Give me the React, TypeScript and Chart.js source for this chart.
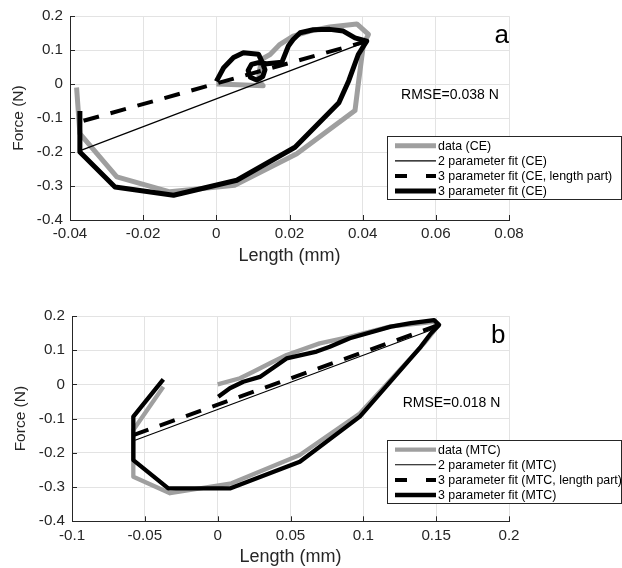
import React, { useEffect, useRef } from 'react';
import { Chart, registerables } from 'chart.js';

Chart.register(...registerables);

// ---------- Panel a (CE) ----------
const ceDataLength = [0.0, 0.006, 0.0128, 0.0115, 0.0118, 0.0124, 0.0147, 0.0174, 0.021, 0.0256, 0.031, 0.0384, 0.0416, 0.0402, 0.0388, 0.0379, 0.0345, 0.022, 0.005, -0.0127, -0.0272, -0.0373, -0.0382];
const ceDataForce = [0.0, -0.002, -0.005, 0.01, 0.04, 0.073, 0.087, 0.117, 0.141, 0.156, 0.168, 0.177, 0.146, 0.117, 0.0, -0.078, -0.105, -0.205, -0.298, -0.317, -0.273, -0.146, -0.01];
const ceFitLength = [0.0, 0.002, 0.0047, 0.0074, 0.0115, 0.0126, 0.0133, 0.0127, 0.011, 0.0093, 0.0087, 0.0096, 0.0115, 0.0138, 0.0179, 0.0197, 0.021, 0.0229, 0.0265, 0.031, 0.0347, 0.0379, 0.0411, 0.0388, 0.0362, 0.0335, 0.0215, 0.0056, -0.0117, -0.0277, -0.0373, -0.0373];
const ceFitForce = [0.008, 0.048, 0.078, 0.092, 0.088, 0.063, 0.042, 0.022, 0.012, 0.02, 0.04, 0.058, 0.063, 0.06, 0.064, 0.112, 0.131, 0.151, 0.16, 0.161, 0.156, 0.136, 0.126, 0.087, 0.01, -0.055, -0.186, -0.283, -0.327, -0.303, -0.2, -0.079];
const ce2pLength = [-0.0372, 0.0411];
const ce2pForce = [-0.196, 0.125];
const ce3pLenLength = [-0.0363, 0.0411];
const ce3pLenForce = [-0.108, 0.126];
const ceLabels = ['data (CE)', '2 parameter fit (CE)', '3 parameter fit (CE, length part)', '3 parameter fit (CE)'];
const ceRmse = 'RMSE=0.038 N';

// ---------- Panel b (MTC) ----------
const mtcDataLength = [0.0, 0.0153, 0.0244, 0.0359, 0.0473, 0.07, 0.0906, 0.118, 0.1486, 0.1509, 0.1417, 0.0976, 0.0564, 0.0095, -0.0327, -0.0579, -0.0579, -0.0373];
const mtcDataForce = [0.0, 0.018, 0.037, 0.062, 0.086, 0.12, 0.139, 0.169, 0.183, 0.169, 0.12, -0.085, -0.206, -0.289, -0.318, -0.27, -0.133, -0.007];
const mtcFitLength = [0.0004, 0.0084, 0.0176, 0.029, 0.0473, 0.0679, 0.077, 0.0907, 0.1189, 0.1326, 0.1486, 0.152, 0.1463, 0.1394, 0.0976, 0.0564, 0.0084, -0.0339, -0.0579, -0.0579, -0.0373];
const mtcFitForce = [-0.036, -0.011, 0.008, 0.022, 0.076, 0.096, 0.11, 0.135, 0.169, 0.179, 0.188, 0.174, 0.149, 0.11, -0.094, -0.226, -0.304, -0.304, -0.221, -0.094, 0.015];
const mtc2pLength = [-0.0567, 0.152];
const mtc2pForce = [-0.163, 0.168];
const mtc3pLenLength = [-0.0579, 0.152];
const mtc3pLenForce = [-0.148, 0.174];
const mtcLabels = ['data (MTC)', '2 parameter fit (MTC)', '3 parameter fit (MTC, length part)', '3 parameter fit (MTC)'];
const mtcRmse = 'RMSE=0.018 N';

// axis ranges / ticks
const ceXRange = [-0.04, 0.08, 0.02];
const mtcXRange = [-0.1, 0.2, 0.05];
const forceRange = [-0.4, 0.2, 0.1];

const FONT = '"Liberation Sans", Arial, Helvetica, sans-serif';
const AX = '#262626';
const GRID = '#e3e3e3';
const GRAY = '#9f9f9f';

const pts = (xs: number[], ys: number[]) => xs.map((x, i) => ({ x, y: ys[i] }));
const fmt = (v: any) => String(Math.round(Number(v) * 1000) / 1000);

const innerTicks = {
  id: 'innerTicks',
  beforeDatasetsDraw(chart: any) {
    const { ctx, chartArea: a, scales } = chart;
    const x = scales.x, y = scales.y;
    ctx.save();
    ctx.strokeStyle = AX;
    ctx.lineWidth = 1;
    ctx.beginPath();
    x.ticks.forEach((t: any) => {
      const px = Math.round(x.getPixelForValue(t.value)) + 0.5;
      ctx.moveTo(px, a.bottom);
      ctx.lineTo(px, a.bottom - 5);
    });
    y.ticks.forEach((t: any) => {
      const py = Math.round(y.getPixelForValue(t.value)) + 0.5;
      ctx.moveTo(a.left, py);
      ctx.lineTo(a.left + 5, py);
    });
    ctx.stroke();
    ctx.restore();
  },
};

function makeOverlay(o: any) {
  return {
    id: 'overlay',
    afterDatasetsDraw(chart: any) {
      const { ctx, scales } = chart;
      ctx.save();
      // RMSE text
      ctx.fillStyle = '#000';
      ctx.font = `14px ${FONT}`;
      ctx.textAlign = 'left';
      ctx.textBaseline = 'middle';
      ctx.fillText(o.rmse, scales.x.getPixelForValue(o.rmsePos[0]), scales.y.getPixelForValue(o.rmsePos[1]));
      // panel letter
      ctx.font = `26px ${FONT}`;
      ctx.textAlign = 'right';
      ctx.textBaseline = 'alphabetic';
      ctx.fillText(o.letter, scales.x.getPixelForValue(o.letterPos[0]), scales.y.getPixelForValue(o.letterPos[1]));
      // legend box
      const b = o.box;
      ctx.fillStyle = '#fff';
      ctx.fillRect(b.x, b.y, b.w, b.h);
      ctx.strokeStyle = AX;
      ctx.lineWidth = 1;
      ctx.strokeRect(b.x + 0.5, b.y + 0.5, b.w, b.h);
      const ds = chart.data.datasets;
      ds.forEach((d: any, i: number) => {
        const yy = b.y + 9.7 + i * 15.1;
        ctx.save();
        ctx.strokeStyle = d.borderColor;
        ctx.lineWidth = d.borderWidth;
        ctx.setLineDash(d.borderDash ? [12, 19] : []);
        ctx.beginPath();
        ctx.moveTo(b.x + 8, yy);
        ctx.lineTo(b.x + 49, yy);
        ctx.stroke();
        ctx.restore();
        ctx.fillStyle = '#000';
        ctx.font = `12.4px ${FONT}`;
        ctx.textAlign = 'left';
        ctx.textBaseline = 'middle';
        ctx.fillText(d.label, b.x + 51, yy + 0.5);
      });
      ctx.restore();
    },
  };
}

function buildConfig(p: any) {
  const line = { showLine: true, pointRadius: 0, borderJoinStyle: 'round', tension: 0, fill: false };
  return {
    type: 'scatter',
    data: {
      datasets: [
        { ...line, label: p.labels[0], data: pts(p.dataL, p.dataF), borderColor: GRAY, backgroundColor: GRAY, borderWidth: p.wData, order: 4 },
        { ...line, label: p.labels[1], data: pts(p.twoL, p.twoF), borderColor: '#000', backgroundColor: '#000', borderWidth: p.wThin, order: 3 },
        { ...line, label: p.labels[2], data: pts(p.lenL, p.lenF), borderColor: '#000', backgroundColor: '#000', borderWidth: p.wDash, borderDash: [16, 12], order: 2 },
        { ...line, label: p.labels[3], data: pts(p.fitL, p.fitF), borderColor: '#000', backgroundColor: '#000', borderWidth: p.wFit, order: 1 },
      ],
    },
    options: {
      responsive: false,
      animation: false,
      events: [],
      layout: { padding: { left: 0, right: p.padRight, top: p.padTop, bottom: 0 } },
      plugins: { legend: { display: false }, tooltip: { enabled: false } },
      scales: {
        x: {
          type: 'linear',
          min: p.xr[0],
          max: p.xr[1],
          ticks: { stepSize: p.xr[2], callback: fmt, color: AX, font: { family: FONT, size: 15.2 }, padding: 5, maxRotation: 0, autoSkip: false },
          grid: { color: GRID, drawTicks: false, lineWidth: 1 },
          border: { color: AX, width: 1 },
          title: { display: true, text: 'Length (mm)', color: AX, font: { family: FONT, size: 18 }, padding: { top: 0, bottom: p.xTitlePad } },
          afterFit: (s: any) => { s.height = p.xH; },
        },
        y: {
          type: 'linear',
          min: forceRange[0],
          max: forceRange[1],
          ticks: { stepSize: forceRange[2], callback: fmt, color: AX, font: { family: FONT, size: 15.2 }, padding: 7, autoSkip: false },
          grid: { color: GRID, drawTicks: false, lineWidth: 1 },
          border: { color: AX, width: 1 },
          title: { display: true, text: 'Force (N)', color: AX, font: { family: FONT, size: 15.5 }, padding: { top: p.yTitlePad, bottom: 0 } },
          afterFit: (s: any) => { s.width = p.yW; },
        },
      },
    },
    plugins: [innerTicks, makeOverlay(p.overlay)],
  };
}

const panelA = {
  labels: ceLabels,
  dataL: ceDataLength, dataF: ceDataForce,
  twoL: ce2pLength, twoF: ce2pForce,
  lenL: ce3pLenLength, lenF: ce3pLenForce,
  fitL: ceFitLength, fitF: ceFitForce,
  wData: 5, wThin: 1.2, wDash: 4, wFit: 5,
  xr: ceXRange,
  padRight: 113, padTop: 14.7, xH: 64, xTitlePad: 17.2, yW: 70, yTitlePad: 9.7,
  overlay: { rmse: ceRmse, rmsePos: [0.0505, -0.032], letter: 'a', letterPos: [0.0800, 0.121], box: { x: 387, y: 136, w: 234, h: 63 } },
};

const panelB = {
  labels: mtcLabels,
  dataL: mtcDataLength, dataF: mtcDataForce,
  twoL: mtc2pLength, twoF: mtc2pForce,
  lenL: mtc3pLenLength, lenF: mtc3pLenForce,
  fitL: mtcFitLength, fitF: mtcFitForce,
  wData: 4.3, wThin: 1.1, wDash: 4, wFit: 4.3,
  xr: mtcXRange,
  padRight: 113, padTop: 32, xH: 46.7, xTitlePad: 0, yW: 72, yTitlePad: 11.7,
  overlay: { rmse: mtcRmse, rmsePos: [0.127, -0.055], letter: 'b', letterPos: [0.1975, 0.121], box: { x: 387, y: 156, w: 234, h: 63 } },
};

function Panel({ cfg, top }: { cfg: any; top: number }) {
  const ref = useRef<HTMLCanvasElement | null>(null);
  useEffect(() => {
    if (!ref.current) return;
    const chart = new Chart(ref.current, buildConfig(cfg) as any);
    return () => chart.destroy();
  }, [cfg]);
  return (
    <canvas
      ref={ref}
      width={622}
      height={284}
      style={{ position: 'absolute', left: 0, top, width: 622, height: 284, display: 'block' }}
    />
  );
}

export default function App() {
  return (
    <div style={{ position: 'absolute', left: 0, top: 0, width: 622, height: 568, background: '#fff', overflow: 'hidden' }}>
      <Panel cfg={panelA} top={0} />
      <Panel cfg={panelB} top={284} />
    </div>
  );
}
